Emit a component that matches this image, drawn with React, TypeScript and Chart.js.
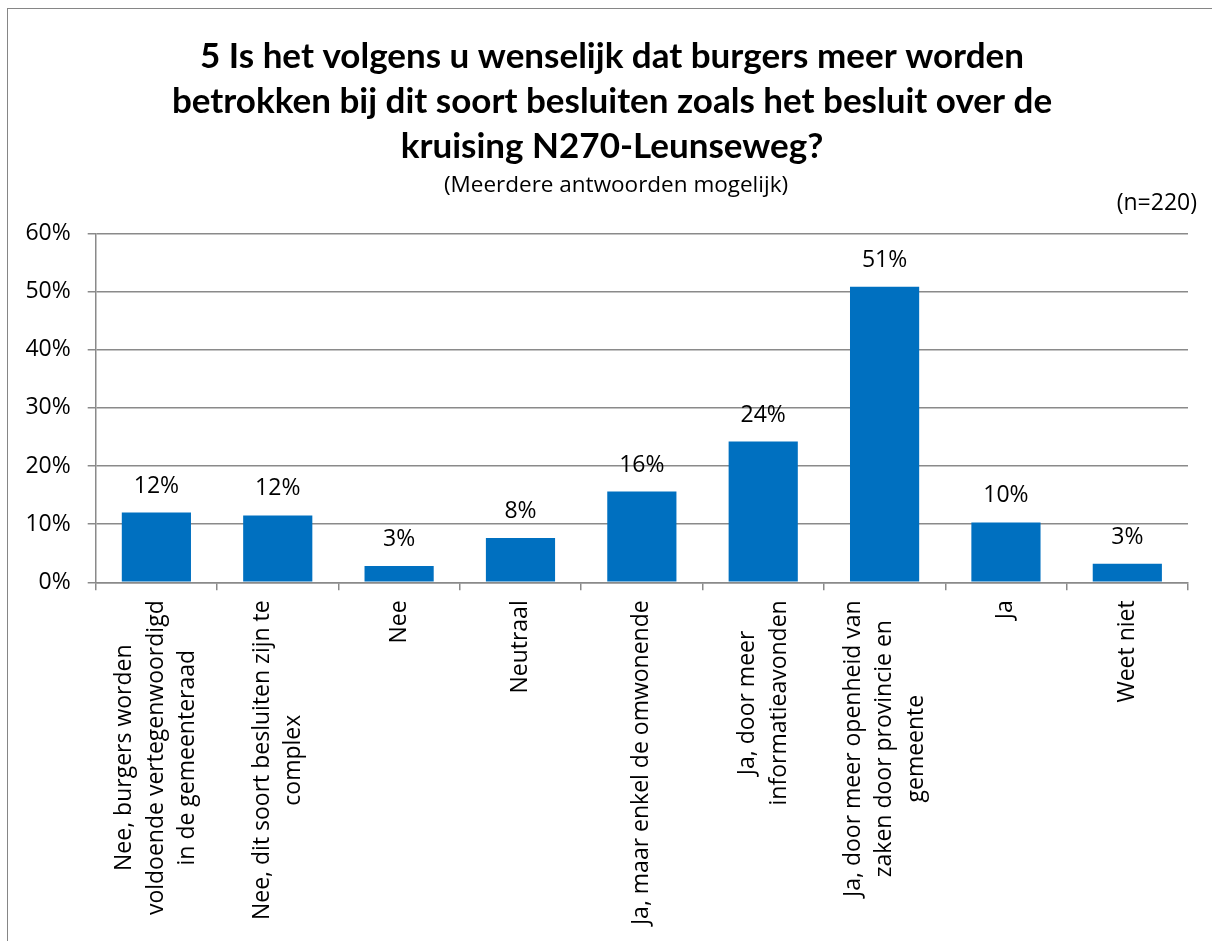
import React, { useEffect, useRef } from "react";
import { Chart, registerables } from "chart.js";

Chart.register(...registerables);

const titleLines = [
  "5 Is het volgens u wenselijk dat burgers meer worden",
  "betrokken bij dit soort besluiten zoals het besluit over de",
  "kruising N270-Leunseweg?",
];
const subtitle = "(Meerdere antwoorden mogelijk)";
const sampleNote = "(n=220)";

const categories: string[][] = [
  ["Nee, burgers worden", "voldoende vertegenwoordigd", "in de gemeenteraad"],
  ["Nee, dit soort besluiten zijn te", "complex"],
  ["Nee"],
  ["Neutraal"],
  ["Ja, maar enkel de omwonende"],
  ["Ja, door meer", "informatieavonden"],
  ["Ja, door meer openheid van", "zaken door provincie en", "gemeente"],
  ["Ja"],
  ["Weet niet"],
];
const values = [12.0, 11.5, 2.8, 7.6, 15.6, 24.2, 50.8, 10.3, 3.2];
const yMin = 0;
const yMax = 60;
const yStep = 10;

const FONT = "'Open Sans', 'DejaVu Sans', sans-serif";
const TITLE_FONT = "Lato, 'Open Sans', sans-serif";
const GRID = "#8a8a8a";
const BAR = "#0070C0";
const FS = 23;

const textPlugin = {
  id: "customText",
  afterDraw(chart: any) {
    const ctx = chart.ctx as CanvasRenderingContext2D;
    const w = chart.width;
    ctx.save();
    ctx.fillStyle = "#000";
    // title
    ctx.font = `bold 35px ${TITLE_FONT}`;
    ctx.textAlign = "center";
    ctx.textBaseline = "alphabetic";
    const cx = w / 2 + 2;
    titleLines.forEach((t, i) => ctx.fillText(t, cx, 59 + i * 45));
    ctx.font = `22.5px ${FONT}`;
    ctx.textBaseline = "middle";
    ctx.fillText(subtitle, cx + 4, 177);
    ctx.font = `${FS}px ${FONT}`;
    ctx.textAlign = "right";
    ctx.fillText(sampleNote, 1189, 194);

    // category labels (rotated, multi-line centered)
    const xs = chart.scales.x;
    const top = xs.top + 18;
    const lh = 31.5;
    ctx.font = `${FS}px ${FONT}`;
    categories.forEach((lines, i) => {
      const x = xs.getPixelForValue(i);
      const blockW = Math.max(...lines.map((l) => ctx.measureText(l).width));
      ctx.save();
      ctx.translate(x, top);
      ctx.rotate(-Math.PI / 2);
      ctx.textAlign = "center";
      ctx.textBaseline = "middle";
      lines.forEach((l, k) => {
        const v = (k - (lines.length - 1) / 2) * lh;
        ctx.fillText(l, -blockW / 2, v);
      });
      ctx.restore();
    });

    // value labels
    const meta = chart.getDatasetMeta(0);
    ctx.textAlign = "center";
    ctx.textBaseline = "alphabetic";
    meta.data.forEach((bar: any, i: number) => {
      ctx.fillText(Math.round(values[i]) + "%", bar.x, bar.y - 20);
    });
    ctx.restore();
  },
};

export default function App() {
  const ref = useRef<HTMLCanvasElement>(null);
  useEffect(() => {
    if (!ref.current) return;
    const chart = new Chart(ref.current, {
      type: "bar",
      data: {
        labels: categories,
        datasets: [
          {
            data: values,
            backgroundColor: BAR,
            borderWidth: 0,
            categoryPercentage: 1,
            barPercentage: 0.57,
          },
        ],
      },
      options: {
        animation: false,
        responsive: false,
        devicePixelRatio: 1,
        layout: { padding: { top: 224.3, right: 24, left: 0, bottom: 0 } },
        plugins: {
          legend: { display: false },
          tooltip: { enabled: false },
          title: { display: false },
        },
        scales: {
          x: {
            ticks: { display: false },
            grid: {
              drawOnChartArea: false,
              drawTicks: true,
              tickLength: 8,
              color: GRID,
              lineWidth: 1.5,
              offset: true,
            },
            border: { color: GRID, width: 1.5 },
            afterFit: (s: any) => {
              s.height = 932 - 573.3;
            },
          },
          y: {
            min: yMin,
            max: yMax,
            ticks: {
              stepSize: yStep,
              padding: 17,
              color: "#000",
              font: { family: FONT, size: FS },
              callback: (v: any) => v + "%",
            },
            grid: { color: GRID, lineWidth: 1.5, tickLength: 8 },
            border: { color: GRID, width: 1.5 },
            afterFit: (s: any) => {
              s.width = 87.7;
            },
          },
        },
      },
      plugins: [textPlugin],
    });
    return () => chart.destroy();
  }, []);
  return (
    <div
      style={{
        position: "fixed",
        left: 7,
        top: 8,
        width: 1205,
        height: 933,
        overflow: "hidden",
      }}
    >
      <div
        style={{
          border: "1px solid #868686",
          width: 1300,
          height: 1100,
          boxSizing: "border-box",
          background: "#fff",
        }}
      >
        <canvas ref={ref} width={1204} height={932} style={{ display: "block", width: 1204, height: 932 }} />
      </div>
    </div>
  );
}
